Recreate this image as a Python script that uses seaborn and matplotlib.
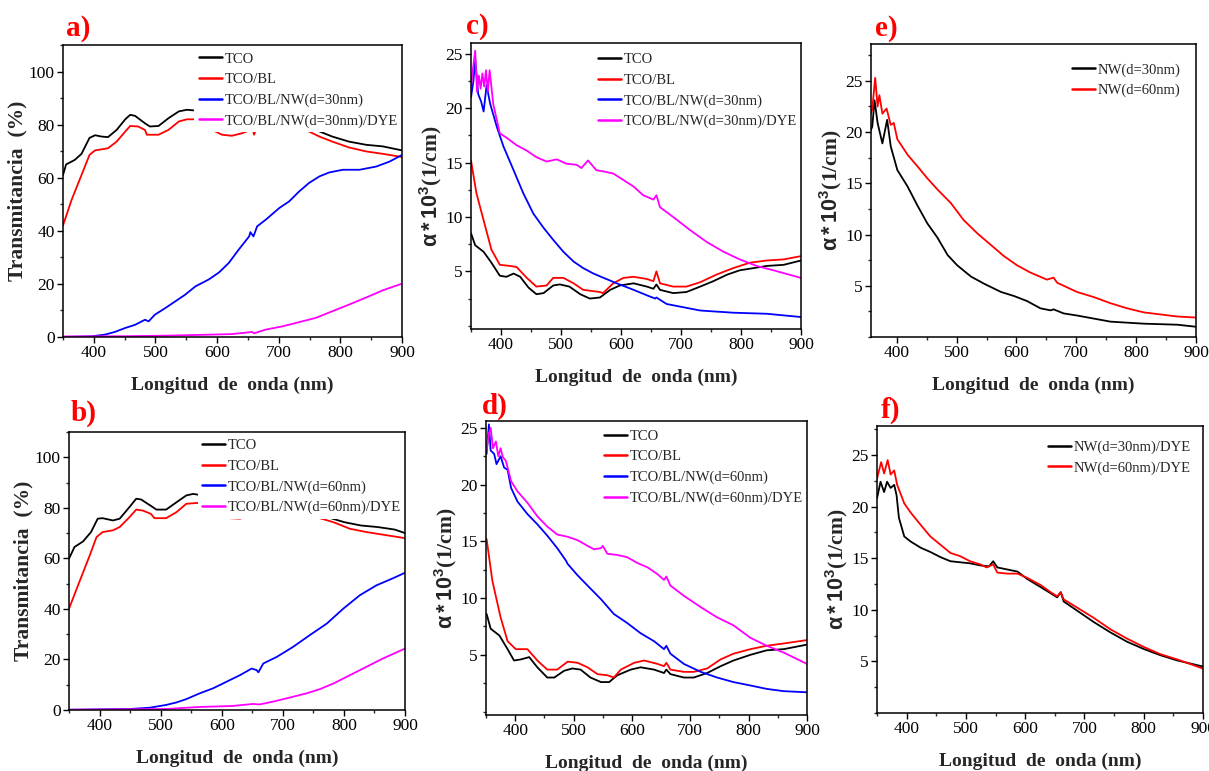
import matplotlib
matplotlib.use('Agg')
import matplotlib.pyplot as plt
import seaborn as sns
from matplotlib.ticker import MultipleLocator, FixedLocator

sns.set_theme(style='white')
plt.rcParams['font.family'] = ['Liberation Serif', 'DejaVu Serif']
plt.rcParams['mathtext.fontset'] = 'custom'
plt.rcParams['mathtext.bf'] = 'Liberation Sans:bold'
plt.rcParams['mathtext.rm'] = 'Liberation Sans'
plt.rcParams['mathtext.it'] = 'Liberation Sans:italic'

# ---------------- data ----------------
# Panel a: transmittance, NW d=30nm
a_tco_wl = [350,355,369,380,393,402,413,423,437,451,459,467,483,491,505,521,538,551,565,578,603,625,640,660,680,700,720,733,760,787,814,842,869,900]
a_tco_T = [61,65,66.7,69,75,76,75.5,75.3,78,82,83.7,83.3,80.5,79.3,79.5,82.4,85,85.6,85.3,83.7,78.7,78.7,79.2,80.5,81.5,82,81.5,80.5,78,75.5,73.6,72.4,71.8,70.3]
a_bl_wl = [350,364,380,393,402,423,437,451,459,472,483,486,505,521,538,551,565,568,578,592,608,624,641,652,658,660,665,679,706,722,744,766,787,814,842,869,900]
a_bl_T = [42,51.7,61,68.6,70.3,71.1,73.6,77.4,79.5,79.3,78,76.2,76.2,78,81.2,82,82,82.8,80,78,76.2,75.8,76.8,77.8,78.3,76.2,79.3,79.5,80,79.7,78,75.5,73.6,71.4,69.9,69,67.8]
a_nw_wl = [350,396,418,434,451,467,483,489,499,516,532,548,565,570,586,603,619,635,652,654,659,665,679,701,717,733,749,766,782,804,831,858,880,900]
a_nw_T = [0,0.25,0.9,1.9,3.4,4.6,6.5,5.9,8.4,10.9,13.4,15.9,19.1,19.7,21.6,24.3,27.9,32.9,37.9,39.5,37.9,41.7,44.2,48.6,51.1,54.8,58,60.5,62,63,63,64.2,66.1,68.6]
a_dye_wl = [350,450,516,592,624,657,660,679,706,733,760,787,814,842,869,900]
a_dye_T = [0.2,0.3,0.5,0.9,1.1,1.9,1.4,2.8,4,5.6,7.2,9.7,12.2,14.9,17.6,20.1]

# Panel b: transmittance, NW d=60nm
b_tco_wl = [350,359,373,386,397,405,422,433,449,460,468,487,493,509,526,542,553,564,578,600,630,660,700,730,751,773,801,828,855,883,900]
b_tco_T = [59.9,64.5,66.7,70.4,75.7,75.9,75,75.7,80.3,83.6,83.3,80.3,79.3,79.3,82.2,84.9,85.5,85.1,82.9,79,78.5,80,81.5,80,77.6,76.3,74.3,73,72.4,71.4,70]
b_bl_wl = [350,367,384,395,405,422,433,449,460,471,484,490,509,526,542,564,569,578,594,613,630,651,659,665,690,728,755,783,810,837,900]
b_bl_T = [40.1,50.7,61.2,68.4,70.4,71.1,72.4,76.3,79.3,78.9,77.6,75.9,75.9,78.3,81.6,82,82.5,79.9,79.6,75.9,75.7,77.6,76.3,78.5,80,79,76.3,74.3,71.7,70.4,68]
b_nw_wl = [350,449,482,509,526,542,564,586,608,630,649,657,660,668,690,717,744,772,799,826,853,881,900]
b_nw_T = [0.1,0.4,0.9,2,3,4.3,6.6,8.6,11.2,13.8,16.4,15.8,14.9,18.4,21,25,29.6,34.2,40.1,45.4,49.3,52.2,54.3]
b_dye_wl = [350,509,564,618,651,662,684,711,739,760,783,810,837,864,900]
b_dye_T = [0.1,0.4,1.2,1.6,2.4,2.2,3.3,4.9,6.6,8.2,10.5,13.8,17.1,20.4,24.3]

# Panel c: absorption, NW d=30nm
c_tco_wl = [350,357,371,384,398,409,421,432,446,459,471,487,498,514,532,548,565,582,598,621,643,654,659,665,687,709,732,754,777,798,821,843,871,900]
c_tco_A = [8.5,7.4,6.8,5.8,4.6,4.5,4.8,4.5,3.5,2.9,3.0,3.7,3.8,3.6,2.9,2.5,2.6,3.3,3.7,3.9,3.6,3.4,3.8,3.3,3.0,3.1,3.6,4.1,4.7,5.1,5.3,5.5,5.6,6.0]
c_bl_wl = [350,359,371,384,398,415,426,443,459,476,487,504,521,537,565,570,587,604,621,643,654,659,665,687,709,732,759,787,815,843,871,900]
c_bl_A = [15.2,12.2,9.7,7.0,5.6,5.5,5.4,4.4,3.6,3.7,4.4,4.4,3.9,3.3,3.1,3.0,3.9,4.4,4.5,4.3,4.1,5.0,3.9,3.6,3.6,4.0,4.7,5.3,5.8,6.0,6.1,6.4]
c_nw_wl = [350,354,357,362,367,371,376,382,393,404,421,437,454,471,487,504,521,537,554,571,593,621,643,657,659,676,704,732,759,787,843,900]
c_nw_A = [21,22.5,24.5,21.3,20.6,19.7,22.1,20.4,18.3,16.5,14.3,12.2,10.3,9.0,7.9,6.8,5.9,5.3,4.8,4.4,3.9,3.3,2.8,2.5,2.6,2.0,1.7,1.4,1.3,1.2,1.1,0.8]
c_dye_wl = [350,353,357,360,363,366,369,372,375,378,381,384,387,398,409,426,443,459,476,493,509,526,534,545,559,570,587,604,621,637,654,659,665,687,715,743,771,798,826,854,900]
c_dye_A = [21.9,23.5,25.3,21.5,23.0,21.8,23.2,22.0,23.5,21.5,23.5,22.0,20.4,17.7,17.3,16.6,16.1,15.5,15.1,15.3,14.9,14.8,14.5,15.2,14.3,14.2,14.0,13.4,12.8,12.0,11.6,12.0,10.9,10.0,8.8,7.7,6.8,6.1,5.5,5.1,4.4]

# Panel d: absorption, NW d=60nm
d_tco_wl = [351,358,373,387,398,410,424,438,455,467,484,498,512,529,547,561,575,598,615,638,655,659,666,689,706,729,752,774,803,831,860,900]
d_tco_A = [8.6,7.3,6.7,5.5,4.5,4.6,4.8,3.9,3.0,3.0,3.6,3.8,3.7,3.0,2.6,2.6,3.2,3.7,3.9,3.7,3.4,3.7,3.3,3.0,3.0,3.4,4.0,4.5,5.0,5.4,5.5,5.9]
d_bl_wl = [351,361,375,387,401,421,438,455,472,490,507,524,541,558,569,581,604,621,644,655,659,666,689,706,729,752,774,803,831,860,900]
d_bl_A = [15.2,11.5,8.3,6.2,5.5,5.5,4.5,3.7,3.7,4.4,4.3,3.9,3.3,3.2,3.0,3.7,4.3,4.5,4.2,4.0,4.3,3.7,3.5,3.5,3.8,4.6,5.1,5.5,5.8,6.0,6.3]
d_nw_wl = [351,355,358,364,368,375,381,387,393,404,421,438,455,472,487,490,507,524,547,569,592,615,638,655,659,666,689,718,746,774,803,831,860,900]
d_nw_A = [22.7,25.3,23.0,22.7,21.8,22.5,21.5,21.3,19.7,18.5,17.4,16.5,15.5,14.4,13.3,13.0,12.0,11.1,9.9,8.6,7.8,6.9,6.2,5.5,5.8,5.1,4.2,3.5,3.0,2.6,2.3,2.0,1.8,1.7]
d_dye_wl = [351,355,358,362,367,371,375,379,384,393,404,421,438,455,472,490,507,524,535,547,550,558,575,592,609,627,644,655,659,666,689,718,746,774,803,831,860,900]
d_dye_A = [23,24.5,25,23.2,23.8,22.5,23.2,22.4,22.1,20.3,19.4,18.4,17.2,16.3,15.6,15.4,15.1,14.6,14.3,14.4,14.6,13.9,13.8,13.6,13.1,12.7,12.1,11.6,11.9,11.1,10.2,9.2,8.3,7.6,6.5,5.8,5.2,4.2]

# Panel e: NW only
e_30_wl = [355,359,363,368,376,384,390,401,418,434,451,468,485,501,524,546,574,596,618,640,657,662,679,701,729,757,785,813,869,900]
e_30_A = [20.0,20.5,23.1,20.9,18.9,21.2,18.6,16.3,14.7,12.9,11.1,9.7,8.0,7.0,5.9,5.2,4.4,4.0,3.5,2.8,2.6,2.7,2.3,2.1,1.8,1.5,1.4,1.3,1.2,1.0]
e_60_wl = [355,359,364,368,371,376,383,390,395,401,418,434,451,468,490,512,535,557,579,601,623,651,662,668,701,729,757,785,813,841,869,900]
e_60_A = [21.5,22.2,25.3,22.5,23.6,21.8,22.3,20.7,20.9,19.3,17.8,16.7,15.5,14.4,13.1,11.4,10.1,9.0,7.9,7.0,6.3,5.6,5.8,5.3,4.4,3.9,3.3,2.8,2.4,2.2,2.0,1.9]

# Panel f: NW + DYE
f_30_wl = [350,356,362,367,373,379,383,387,396,407,424,440,457,474,490,507,524,539,546,553,570,587,603,626,643,654,660,665,688,716,744,772,800,828,856,900]
f_30_A = [20.8,22.4,21.4,22.4,21.8,22.1,21.1,18.9,17.1,16.6,16.0,15.6,15.1,14.7,14.6,14.5,14.3,14.2,14.7,14.1,13.9,13.7,13.0,12.2,11.6,11.2,11.7,10.8,9.9,8.8,7.8,6.9,6.2,5.6,5.1,4.5]
f_60_wl = [350,357,362,368,373,379,384,396,407,424,440,457,474,490,507,524,535,546,553,570,587,603,626,643,654,660,665,688,716,744,772,800,828,856,900]
f_60_A = [22.7,24.3,23.2,24.5,23.1,23.5,22.1,20.3,19.4,18.2,17.1,16.3,15.5,15.2,14.7,14.4,14.1,14.4,13.6,13.5,13.5,13.1,12.4,11.7,11.3,11.7,11.0,10.2,9.2,8.1,7.2,6.4,5.7,5.2,4.3]

labels_30 = ['TCO', 'TCO/BL', 'TCO/BL/NW(d=30nm)', 'TCO/BL/NW(d=30nm)/DYE']
labels_60 = ['TCO', 'TCO/BL', 'TCO/BL/NW(d=60nm)', 'TCO/BL/NW(d=60nm)/DYE']
labels_e = ['NW(d=30nm)', 'NW(d=60nm)']
labels_f = ['NW(d=30nm)/DYE', 'NW(d=60nm)/DYE']
xticks = [400, 500, 600, 700, 800, 900]
alpha_label = r'$\mathbf{\alpha*10^3}$(1/cm)'

# ---------------- drawing ----------------
C4 = ['black', '#ff0000', '#0000ff', '#ff00ff']
fig = plt.figure(figsize=(12.09, 7.71), dpi=100)
fig.patch.set_facecolor('white')

def draw(rect, series, labels, colors, ylabel, ylim, yticks, yminor, xlim,
         legbox, letter, letpos, legcover=False):
    ax = fig.add_axes(rect)
    for (x, y), lab, col in zip(series, labels, colors):
        sns.lineplot(x=x, y=y, ax=ax, color=col, linewidth=1.3, label=lab)
    ax.set_xlim(*xlim)
    ax.set_ylim(*ylim)
    ax.xaxis.set_major_locator(FixedLocator(xticks))
    ax.xaxis.set_minor_locator(MultipleLocator(50))
    ax.yaxis.set_major_locator(FixedLocator(yticks))
    ax.yaxis.set_minor_locator(MultipleLocator(yminor))
    ax.tick_params(axis='both', which='major', direction='out', length=4, width=1,
                   labelsize=12.5, pad=2, bottom=True, left=True, top=False, right=False,
                   colors='black')
    ax.tick_params(axis='both', which='minor', direction='out', length=2.5, width=1,
                   bottom=True, left=True, top=False, right=False)
    for s in ax.spines.values():
        s.set_color('black')
        s.set_linewidth(1.1)
        s.set_zorder(10)
    ax.set_xlabel('Longitud  de  onda (nm)', fontsize=14, fontweight='bold', labelpad=11)
    ax.set_ylabel(ylabel, fontsize=15.5, fontweight='bold', labelpad=1)
    leg = ax.legend(loc='upper right', bbox_to_anchor=legbox, fontsize=10.5,
                    handlelength=1.6, handletextpad=0.15, labelspacing=0.5,
                    borderpad=0.3, borderaxespad=0.0, frameon=legcover,
                    facecolor='white', edgecolor='none', framealpha=1.0, fancybox=False)
    for ln in leg.get_lines():
        ln.set_linewidth(1.8)
    fig.text(letpos[0], letpos[1], letter, color='#ff0000', fontsize=21,
             fontweight='bold', ha='left', va='center')
    return ax

W, H = 1209, 771
def rect(l, t, r, b):
    return [l / W, 1 - b / H, (r - l) / W, (b - t) / H]

# a
draw(rect(63, 45, 402, 337),
     [(a_tco_wl, a_tco_T), (a_bl_wl, a_bl_T), (a_nw_wl, a_nw_T), (a_dye_wl, a_dye_T)],
     labels_30, C4, 'Transmitancia  (%)', (0, 110), [0, 20, 40, 60, 80, 100], 10,
     (350, 900), (1.0, 0.99), 'a)', (66 / W, 1 - 28 / H), legcover=True)
# b
draw(rect(69, 432, 405, 710),
     [(b_tco_wl, b_tco_T), (b_bl_wl, b_bl_T), (b_nw_wl, b_nw_T), (b_dye_wl, b_dye_T)],
     labels_60, C4, 'Transmitancia  (%)', (0, 110), [0, 20, 40, 60, 80, 100], 10,
     (350, 900), (1.0, 0.99), 'b)', (71 / W, 1 - 413 / H), legcover=True)
# c
draw(rect(471, 43, 801, 329),
     [(c_tco_wl, c_tco_A), (c_bl_wl, c_bl_A), (c_nw_wl, c_nw_A), (c_dye_wl, c_dye_A)],
     labels_30, C4, alpha_label, (-0.3, 26), [5, 10, 15, 20, 25], 2.5,
     (350, 900), (1.0, 0.98), 'c)', (466 / W, 1 - 26 / H))
# d
draw(rect(486, 421, 807, 715),
     [(d_tco_wl, d_tco_A), (d_bl_wl, d_bl_A), (d_nw_wl, d_nw_A), (d_dye_wl, d_dye_A)],
     labels_60, C4, alpha_label, (-0.3, 25.6), [5, 10, 15, 20, 25], 2.5,
     (350, 900), (1.0, 0.985), 'd)', (482 / W, 1 - 406 / H))
# e
draw(rect(871, 44, 1196, 337),
     [(e_30_wl, e_30_A), (e_60_wl, e_60_A)],
     labels_e, C4[:2], alpha_label, (0, 28.6), [5, 10, 15, 20, 25], 2.5,
     (357, 900), (0.965, 0.95), 'e)', (875 / W, 1 - 29 / H))
# f
draw(rect(877, 426, 1203, 713),
     [(f_30_wl, f_30_A), (f_60_wl, f_60_A)],
     labels_f, C4[:2], alpha_label, (0, 27.8), [5, 10, 15, 20, 25], 2.5,
     (350, 900), (0.975, 0.965), 'f)', (881 / W, 1 - 410 / H))

fig.savefig('out.png', dpi=100, facecolor='white')
